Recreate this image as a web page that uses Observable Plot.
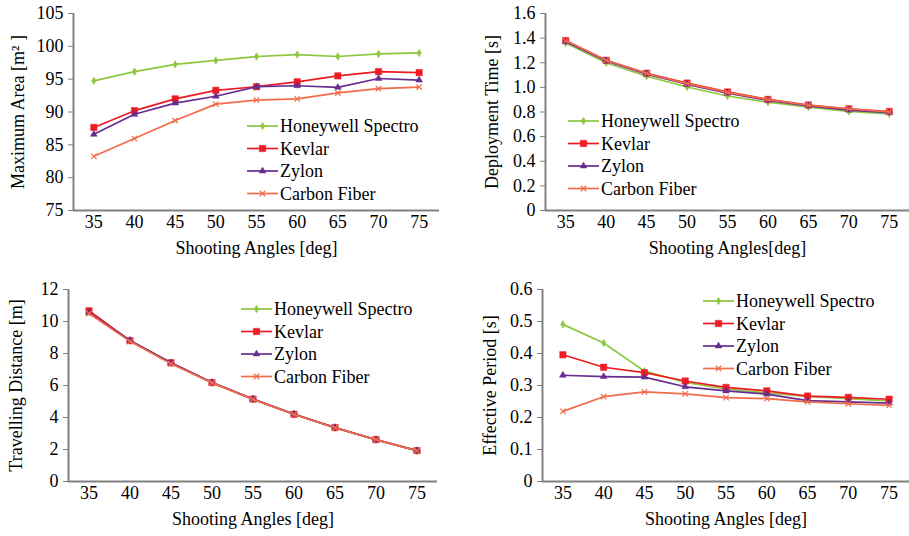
<!DOCTYPE html>
<html><head><meta charset="utf-8">
<script src="https://cdn.jsdelivr.net/npm/d3@7"></script>
<script src="https://cdn.jsdelivr.net/npm/@observablehq/plot@0.6"></script>
<style>
body{margin:0;background:#fff;}
#root{position:relative;width:909px;height:536px;overflow:hidden;background:#fff;font-family:'Liberation Serif',serif;}
.panel{position:absolute;}
#legend{position:absolute;left:0;top:0;}
#root text{font-family:'Liberation Serif',serif !important;}
</style></head><body><div id="root"></div>
<script>
// ---- data ----
const angles = [35, 40, 45, 50, 55, 60, 65, 70, 75];
const seriesNames = ["Honeywell Spectro", "Kevlar", "Zylon", "Carbon Fiber"];
const seriesColors = ["#8dc63f", "#ed1c24", "#662d91", "#f26b4a"];

const areaHoneywell = [94.75, 96.15, 97.25, 97.85, 98.45, 98.75, 98.45, 98.85, 99.0];
const areaKevlar    = [87.65, 90.2, 92.0, 93.3, 93.85, 94.6, 95.5, 96.15, 96.0];
const areaZylon     = [86.6, 89.65, 91.35, 92.4, 93.85, 94.0, 93.75, 95.1, 94.85];
const areaCarbon    = [83.25, 85.95, 88.7, 91.2, 91.8, 92.0, 92.9, 93.55, 93.8];

const timeHoneywell = [1.36, 1.20, 1.09, 1.003, 0.93, 0.88, 0.84, 0.805, 0.785];
const timeKevlar    = [1.38, 1.22, 1.115, 1.035, 0.963, 0.902, 0.857, 0.826, 0.804];
const timeZylon     = [1.37, 1.215, 1.108, 1.025, 0.953, 0.895, 0.85, 0.815, 0.795];
const timeCarbon    = [1.378, 1.22, 1.113, 1.03, 0.96, 0.9, 0.855, 0.825, 0.80];

const distHoneywell = [10.6, 8.82, 7.4, 6.18, 5.13, 4.2, 3.36, 2.6, 1.92];
const distKevlar    = [10.67, 8.8, 7.42, 6.18, 5.15, 4.2, 3.37, 2.62, 1.93];
const distZylon     = [10.55, 8.82, 7.42, 6.19, 5.16, 4.21, 3.37, 2.61, 1.93];
const distCarbon    = [10.5, 8.76, 7.36, 6.17, 5.14, 4.2, 3.36, 2.62, 1.92];

const periodHoneywell = [0.491, 0.433, 0.345, 0.31, 0.289, 0.277, 0.266, 0.259, 0.252];
const periodKevlar    = [0.396, 0.357, 0.34, 0.314, 0.294, 0.283, 0.267, 0.263, 0.257];
const periodZylon     = [0.332, 0.328, 0.326, 0.296, 0.283, 0.273, 0.253, 0.249, 0.245];
const periodCarbon    = [0.219, 0.265, 0.28, 0.274, 0.262, 0.259, 0.249, 0.243, 0.238];

const areaTicks = [75, 80, 85, 90, 95, 100, 105];
const timeTicks = [0, 0.2, 0.4, 0.6, 0.8, 1.0, 1.2, 1.4, 1.6];
const distTicks = [0, 2, 4, 6, 8, 10, 12];
const periodTicks = [0, 0.1, 0.2, 0.3, 0.4, 0.5, 0.6];

// ---- layout / style ----
const FONT = "Liberation Serif, serif";
const FS = 18;
const AXIS = "#808080";
const symbolTypes = [d3.symbolDiamond, d3.symbolSquare, d3.symbolTriangle, d3.symbolTimes];
const plotSymbols = ["diamond", "square", "triangle", "times"];
const symbolR = [2.3, 3.6, 2.5, 2.6];

const fmt1 = d => d === 0 ? "0" : d.toFixed(1);
const panels = [
  {values: [areaHoneywell, areaKevlar, areaZylon, areaCarbon], ticks: areaTicks, fmt: d => String(d),
   ylabel: "Maximum Area [m\u00B2 ]", xlabel: "Shooting Angles [deg]",
   left: 0, top: 0, width: 460, height: 268, ml: 73, mr: 21, mt: 13, mb: 58, ylo: 62, legend: [247, 126]},
  {values: [timeHoneywell, timeKevlar, timeZylon, timeCarbon], ticks: timeTicks, fmt: fmt1,
   ylabel: "Deployment Time [s]", xlabel: "Shooting Angles[deg]",
   left: 460, top: 0, width: 449, height: 268, ml: 85, mr: 0, mt: 13, mb: 58, ylo: 60, legend: [568, 121]},
  {values: [distHoneywell, distKevlar, distZylon, distCarbon], ticks: distTicks, fmt: d => String(d),
   ylabel: "Travelling Distance [m]", xlabel: "Shooting Angles [deg]",
   left: 0, top: 268, width: 460, height: 268, ml: 68, mr: 23, mt: 21, mb: 55, ylo: 59, legend: [241, 309]},
  {values: [periodHoneywell, periodKevlar, periodZylon, periodCarbon], ticks: periodTicks, fmt: fmt1,
   ylabel: "Effective Period [s]", xlabel: "Shooting Angles [deg]",
   left: 460, top: 268, width: 449, height: 268, ml: 82, mr: 0, mt: 21, mb: 55, ylo: 59, legend: [703, 301]}
];

const root = document.getElementById("root");

for (const p of panels) {
  const ymin = p.ticks[0], ymax = p.ticks[p.ticks.length - 1];
  const marks = [
    Plot.ruleY([ymin], {stroke: AXIS, strokeWidth: 2}),
    Plot.ruleX([32.5], {stroke: AXIS, strokeWidth: 2}),
    Plot.axisX({ticks: angles, tickSize: 0, tickPadding: 5, label: p.xlabel, labelAnchor: "center", labelArrow: "none",
      labelOffset: 43, fontSize: FS, fontFamily: FONT}),
    Plot.axisY({ticks: p.ticks, tickSize: 5, tickPadding: 5, tickFormat: p.fmt, stroke: AXIS, label: p.ylabel,
      labelAnchor: "center", labelArrow: "none", labelOffset: p.ylo, fontSize: FS, fontFamily: FONT})
  ];
  seriesNames.forEach((name, i) => {
    const rows = angles.map((a, j) => ({angle: a, value: p.values[i][j], series: name}));
    marks.push(Plot.line(rows, {x: "angle", y: "value", stroke: seriesColors[i], strokeWidth: 1.7}));
    const isTimes = plotSymbols[i] === "times";
    marks.push(Plot.dot(rows, {x: "angle", y: "value", symbol: () => plotSymbols[i], r: symbolR[i],
      fill: isTimes ? "none" : seriesColors[i], stroke: seriesColors[i], strokeWidth: isTimes ? 1.2 : 0.5}));
  });
  const chart = Plot.plot({
    width: p.width, height: p.height,
    marginLeft: p.ml, marginRight: p.mr, marginTop: p.mt, marginBottom: p.mb,
    x: {type: "linear", domain: [32.5, 77.5]},
    y: {domain: [ymin, ymax]},
    symbol: {type: "identity"},
    style: {fontFamily: FONT, fontSize: FS + "px", color: "black", background: "transparent", overflow: "visible"},
    marks
  });
  const div = document.createElement("div");
  div.className = "panel";
  div.style.left = p.left + "px";
  div.style.top = p.top + "px";
  div.appendChild(chart);
  root.appendChild(div);
}

// ---- legends ----
const svg = d3.select(root).append("svg").attr("id", "legend").attr("width", 909).attr("height", 536);
for (const p of panels) {
  const [lx, ly] = p.legend;
  seriesNames.forEach((name, i) => {
    const y = ly + i * 22.5;
    const g = svg.append("g");
    g.append("line").attr("x1", lx).attr("x2", lx + 31).attr("y1", y).attr("y2", y)
      .attr("stroke", seriesColors[i]).attr("stroke-width", 1.7);
    const r = symbolR[i];
    const isTimes = plotSymbols[i] === "times";
    g.append("path").attr("transform", `translate(${lx + 15.5},${y})`)
      .attr("d", d3.symbol(symbolTypes[i], Math.PI * r * r)())
      .attr("fill", isTimes ? "none" : seriesColors[i]).attr("stroke", seriesColors[i])
      .attr("stroke-width", isTimes ? 1.2 : 0.5);
    g.append("text").attr("x", lx + 33).attr("y", y).attr("dy", "0.35em")
      .style("font-family", FONT).style("font-size", FS + "px").attr("fill", "black").text(name);
  });
}
</script></body></html>
